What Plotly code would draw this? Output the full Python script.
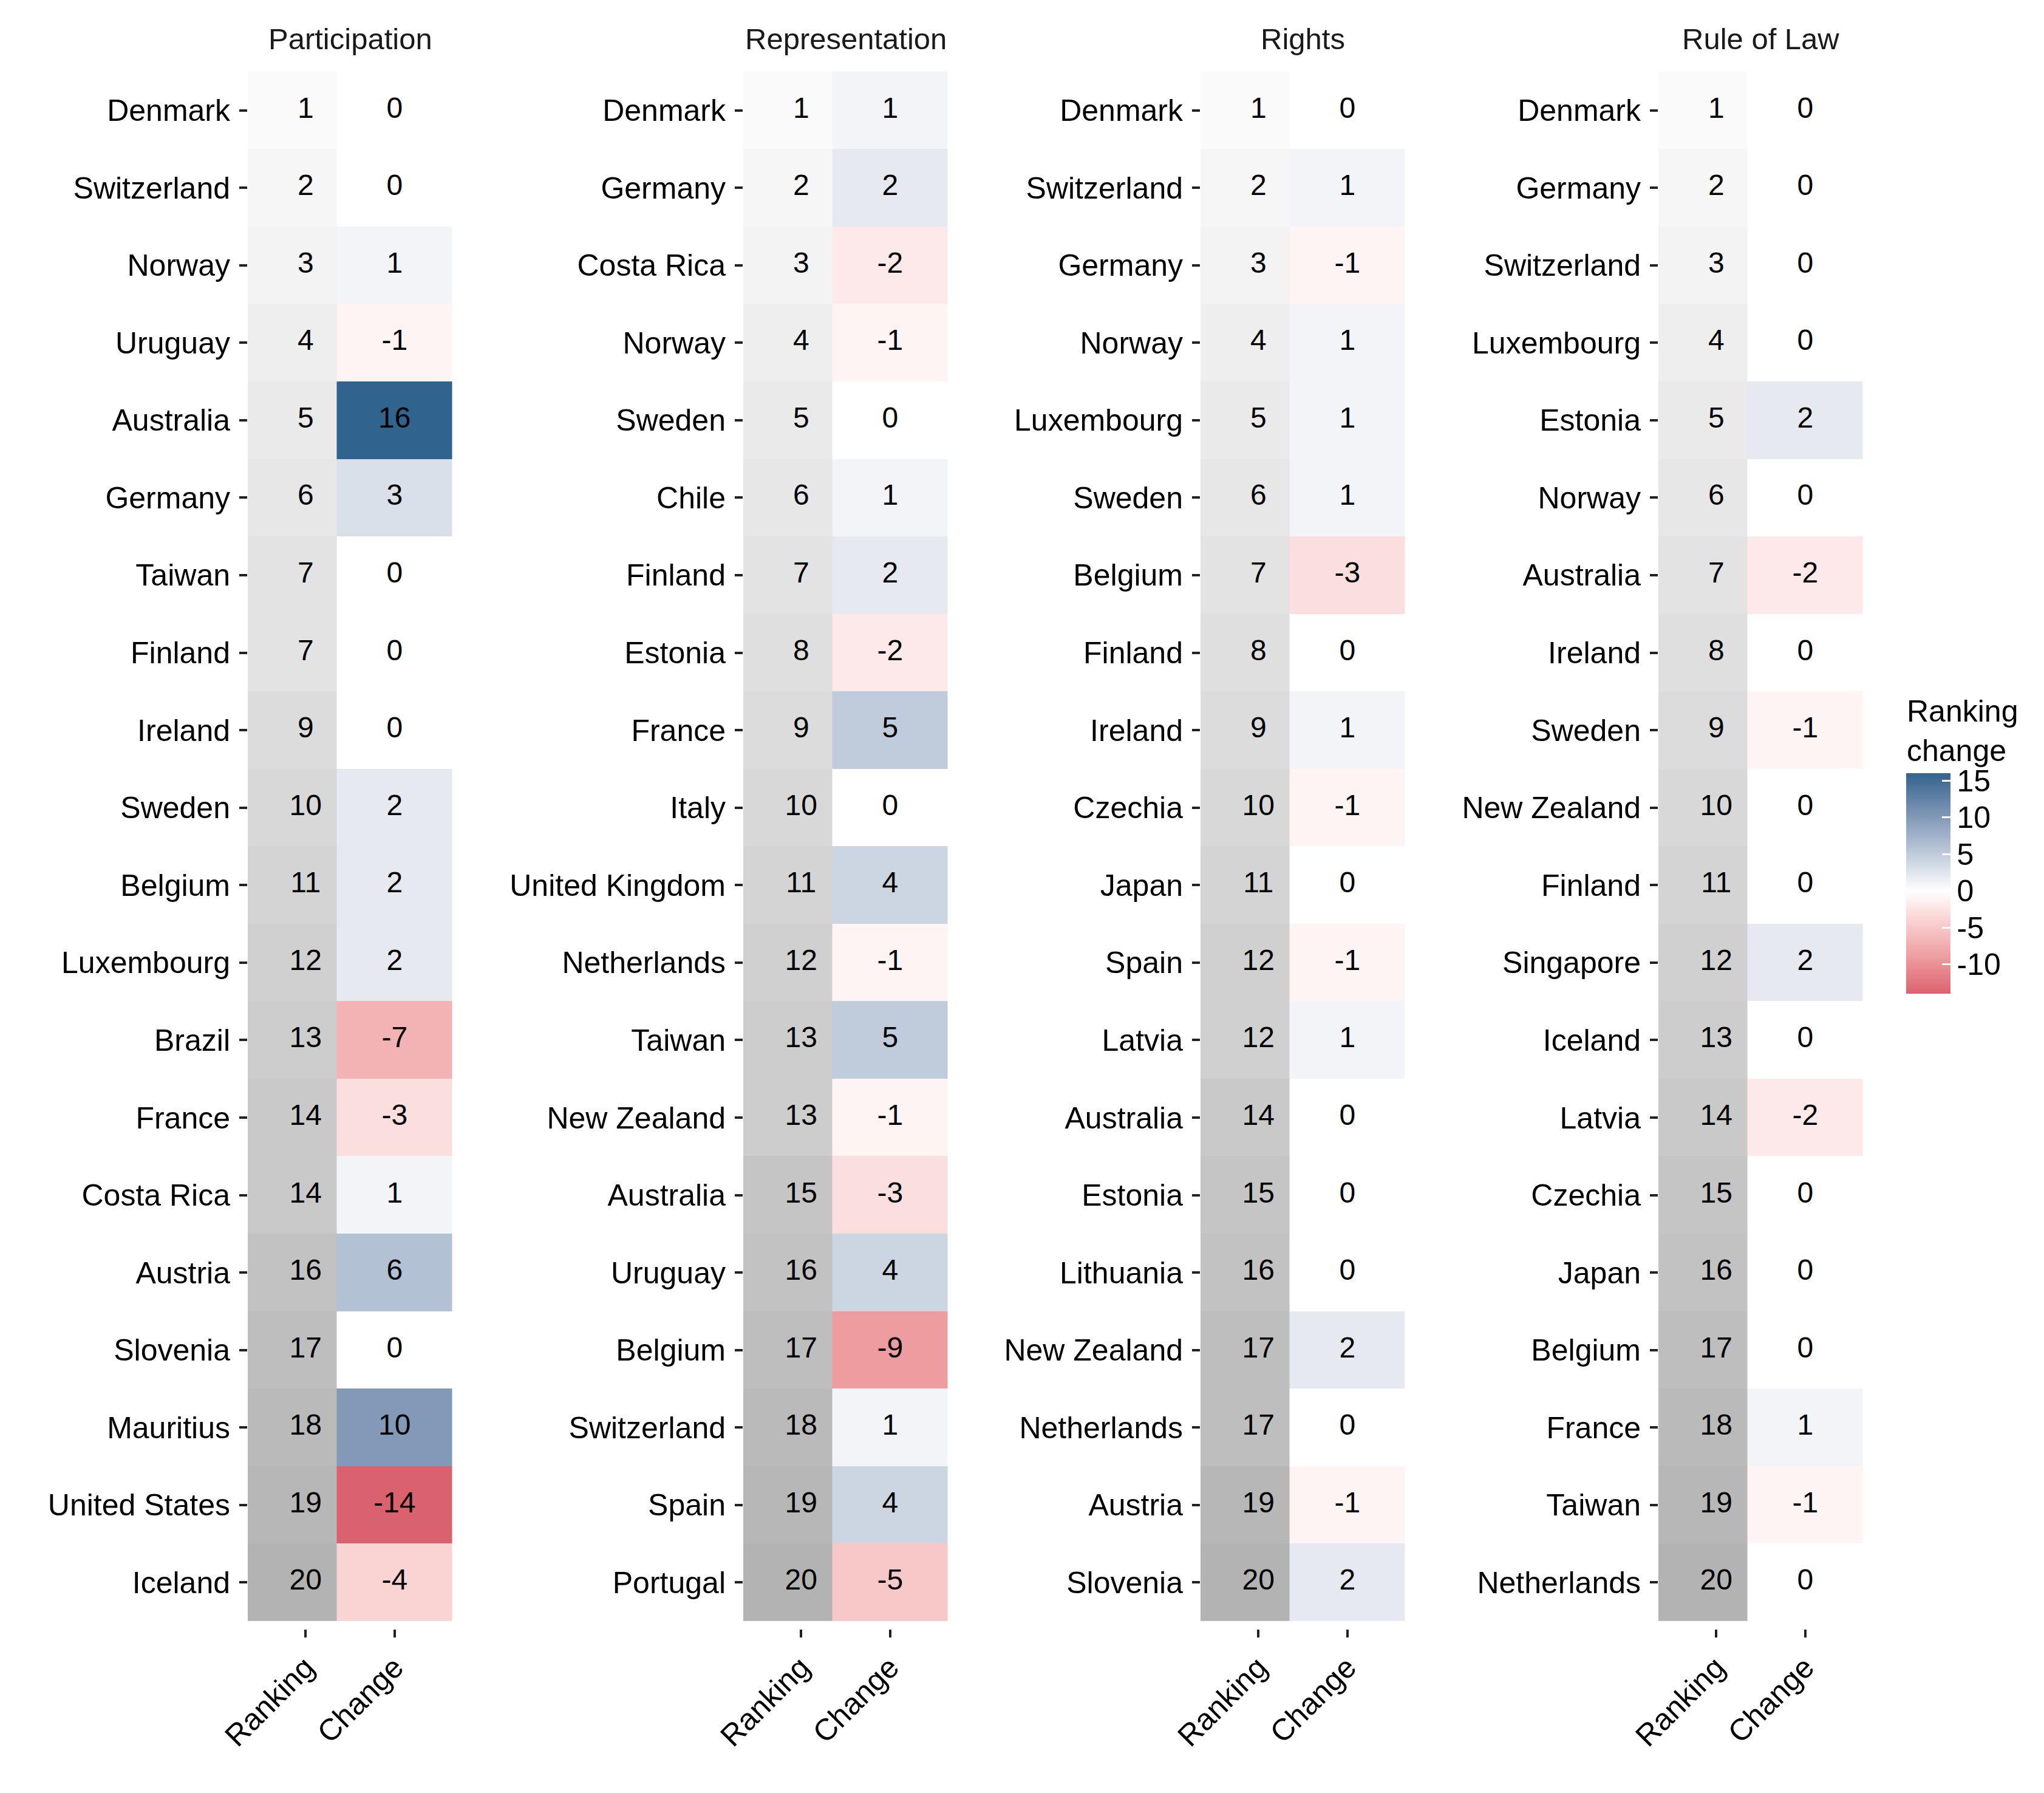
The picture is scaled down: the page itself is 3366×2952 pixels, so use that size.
import plotly.graph_objects as go

# ---------------- data ----------------
panels = ["Participation", "Representation", "Rights", "Rule of Law"]

participation_countries = ["Denmark", "Switzerland", "Norway", "Uruguay", "Australia", "Germany",
                           "Taiwan", "Finland", "Ireland", "Sweden", "Belgium", "Luxembourg",
                           "Brazil", "France", "Costa Rica", "Austria", "Slovenia", "Mauritius",
                           "United States", "Iceland"]
participation_ranking = [1, 2, 3, 4, 5, 6, 7, 7, 9, 10, 11, 12, 13, 14, 14, 16, 17, 18, 19, 20]
participation_change = [0, 0, 1, -1, 16, 3, 0, 0, 0, 2, 2, 2, -7, -3, 1, 6, 0, 10, -14, -4]

representation_countries = ["Denmark", "Germany", "Costa Rica", "Norway", "Sweden", "Chile",
                            "Finland", "Estonia", "France", "Italy", "United Kingdom", "Netherlands",
                            "Taiwan", "New Zealand", "Australia", "Uruguay", "Belgium",
                            "Switzerland", "Spain", "Portugal"]
representation_ranking = [1, 2, 3, 4, 5, 6, 7, 8, 9, 10, 11, 12, 13, 13, 15, 16, 17, 18, 19, 20]
representation_change = [1, 2, -2, -1, 0, 1, 2, -2, 5, 0, 4, -1, 5, -1, -3, 4, -9, 1, 4, -5]

rights_countries = ["Denmark", "Switzerland", "Germany", "Norway", "Luxembourg", "Sweden",
                    "Belgium", "Finland", "Ireland", "Czechia", "Japan", "Spain", "Latvia",
                    "Australia", "Estonia", "Lithuania", "New Zealand", "Netherlands",
                    "Austria", "Slovenia"]
rights_ranking = [1, 2, 3, 4, 5, 6, 7, 8, 9, 10, 11, 12, 12, 14, 15, 16, 17, 17, 19, 20]
rights_change = [0, 1, -1, 1, 1, 1, -3, 0, 1, -1, 0, -1, 1, 0, 0, 0, 2, 0, -1, 2]

rule_countries = ["Denmark", "Germany", "Switzerland", "Luxembourg", "Estonia", "Norway",
                  "Australia", "Ireland", "Sweden", "New Zealand", "Finland", "Singapore",
                  "Iceland", "Latvia", "Czechia", "Japan", "Belgium", "France", "Taiwan",
                  "Netherlands"]
rule_ranking = [1, 2, 3, 4, 5, 6, 7, 8, 9, 10, 11, 12, 13, 14, 15, 16, 17, 18, 19, 20]
rule_change = [0, 0, 0, 0, 2, 0, -2, 0, -1, 0, 0, 2, 0, -2, 0, 0, 0, 1, -1, 0]

column_labels = ["Ranking", "Change"]
legend_title = "Ranking<br>change"
legend_ticks = [15, 10, 5, 0, -5, -10]
legend_ticktext = ["15", "10", "5", "0", "-5", "-10"]

panel_data = [
    (participation_countries, participation_ranking, participation_change),
    (representation_countries, representation_ranking, representation_change),
    (rights_countries, rights_ranking, rights_change),
    (rule_countries, rule_ranking, rule_change),
]

# ---------------- colour helpers (Lab interpolation like ggplot) ----------------
def hex2rgb(h):
    h = h.lstrip("#")
    return [int(h[i:i + 2], 16) / 255 for i in (0, 2, 4)]

def _lin(c):
    return c / 12.92 if c <= 0.04045 else ((c + 0.055) / 1.055) ** 2.4

def _gam(c):
    c = max(0.0, min(1.0, c))
    return 12.92 * c if c <= 0.0031308 else 1.055 * c ** (1 / 2.4) - 0.055

WX, WY, WZ = 0.95047, 1.0, 1.08883

def rgb2lab(rgb):
    r, g, b = [_lin(c) for c in rgb]
    X = 0.4124564 * r + 0.3575761 * g + 0.1804375 * b
    Y = 0.2126729 * r + 0.7151522 * g + 0.0721750 * b
    Z = 0.0193339 * r + 0.1191920 * g + 0.9503041 * b
    def f(t):
        return t ** (1 / 3) if t > 216 / 24389 else (24389 / 27 * t + 16) / 116
    fx, fy, fz = f(X / WX), f(Y / WY), f(Z / WZ)
    return [116 * fy - 16, 500 * (fx - fy), 200 * (fy - fz)]

def lab2hex(lab):
    L, a, b = lab
    fy = (L + 16) / 116
    fx = fy + a / 500
    fz = fy - b / 200
    def finv(t):
        return t ** 3 if t ** 3 > 216 / 24389 else (116 * t - 16) / (24389 / 27)
    X, Y, Z = finv(fx) * WX, finv(fy) * WY, finv(fz) * WZ
    r = 3.2404542 * X - 1.5371385 * Y - 0.4985314 * Z
    g = -0.9692660 * X + 1.8760108 * Y + 0.0415560 * Z
    bb = 0.0556434 * X - 0.2040259 * Y + 1.0572252 * Z
    return "#%02x%02x%02x" % tuple(int(round(_gam(c) * 255)) for c in (r, g, bb))

def lab_mix(c1, c2, t):
    l1, l2 = rgb2lab(hex2rgb(c1)), rgb2lab(hex2rgb(c2))
    return lab2hex([l1[i] + (l2[i] - l1[i]) * t for i in range(3)])

LOW, MID, HIGH = "#D1495B", "#FFFFFF", "#30638E"
all_change = participation_change + representation_change + rights_change + rule_change
cmin, cmax = min(all_change), max(all_change)
ext = max(abs(cmin), abs(cmax))
change_scale = []
for v in range(cmin, cmax + 1):
    t = (v - cmin) / (cmax - cmin)
    s = v / ext
    col = lab_mix(MID, LOW, -s) if s < 0 else lab_mix(MID, HIGH, s)
    change_scale.append([t, col])

GLOW, GHIGH = "#FAFAFA", "#B3B3B3"
grey_scale = [[i / 10, lab_mix(GLOW, GHIGH, i / 10)] for i in range(11)]

# ---------------- geometry (pixels) ----------------
W, H = 3366, 2952
panel_x = [(408, 745), (1224, 1561), (1977, 2314), (2731, 3068)]
panel_top, panel_bot = 105, 2682
title_y = 64
bar_x, bar_top, bar_bot, bar_w = 3139, 1273, 1636, 73
FONT = "Liberation Sans, Arial, sans-serif"

fig = go.Figure()
layout = dict(
    width=W, height=H,
    margin=dict(l=0, r=0, t=0, b=0, autoexpand=False),
    paper_bgcolor="white", plot_bgcolor="white",
    font=dict(family=FONT, size=50, color="black"),
    showlegend=False,
    annotations=[],
    shapes=[],
)

for k, (countries, ranking, change) in enumerate(panel_data):
    idx = "" if k == 0 else str(k + 1)
    rows = list(range(len(countries)))
    fig.add_trace(go.Heatmap(
        x=[-0.65, 0.35], y=rows, z=[[v] for v in ranking],
        coloraxis="coloraxis2", xaxis="x" + idx, yaxis="y" + idx,
        hoverinfo="skip"))
    fig.add_trace(go.Heatmap(
        x=[0.35, 1.65], y=rows, z=[[v] for v in change],
        coloraxis="coloraxis", xaxis="x" + idx, yaxis="y" + idx,
        hoverinfo="skip"))
    fig.add_trace(go.Scatter(
        x=[0] * len(rows) + [1] * len(rows), y=rows + rows,
        text=[str(v) for v in ranking] + [str(v) for v in change],
        mode="text", textfont=dict(family=FONT, size=48, color="black"),
        textposition="middle center",
        xaxis="x" + idx, yaxis="y" + idx, hoverinfo="skip"))

    x0, x1 = panel_x[k]
    layout["xaxis" + idx] = dict(
        domain=[x0 / W, x1 / W], range=[-0.65, 1.65], anchor="y" + idx,
        tickmode="array", tickvals=[0, 1], ticktext=column_labels, tickangle=-45,
        ticks="outside", ticklen=13, tickwidth=4, tickcolor="#222222",
        showgrid=False, zeroline=False, showline=False, fixedrange=True,
        automargin=False,
        tickfont=dict(family=FONT, size=50, color="black"))
    layout["yaxis" + idx] = dict(
        domain=[1 - panel_bot / H, 1 - panel_top / H], range=[19.6, -0.6], anchor="x" + idx,
        tickmode="array", tickvals=rows, ticktext=countries,
        ticks="outside", ticklen=13, tickwidth=4, tickcolor="#222222",
        ticklabelstandoff=5, automargin=False,
        showgrid=False, zeroline=False, showline=False, fixedrange=True,
        tickfont=dict(family=FONT, size=50, color="black"))
    layout["annotations"].append(dict(
        text=panels[k], x=(x0 + x1) / 2 / W, y=1 - title_y / H,
        xref="paper", yref="paper", xanchor="center", yanchor="middle",
        showarrow=False, font=dict(family=FONT, size=49, color="#1a1a1a")))

layout["annotations"].append(dict(
    text=legend_title, x=bar_x / W, y=1 - (bar_top - 8) / H,
    xref="paper", yref="paper", xanchor="left", yanchor="bottom", align="left",
    showarrow=False, borderpad=0, font=dict(family=FONT, size=50, color="black")))

# white tick marks on the left edge of the colour bar (right edge drawn by the colorbar)
for v in legend_ticks:
    py = bar_bot - (v - cmin) / (cmax - cmin) * (bar_bot - bar_top)
    layout["shapes"].append(dict(
        type="line", xref="paper", yref="paper",
        x0=bar_x / W, x1=(bar_x + 14) / W, y0=1 - py / H, y1=1 - py / H,
        line=dict(color="white", width=3)))

layout["coloraxis"] = dict(
    colorscale=change_scale, cmin=cmin, cmax=cmax,
    colorbar=dict(
        x=bar_x / W, xanchor="left", y=1 - (bar_top + bar_bot) / 2 / H, yanchor="middle",
        thickness=bar_w, thicknessmode="pixels", len=bar_bot - bar_top, lenmode="pixels",
        outlinewidth=0, tickmode="array", tickvals=legend_ticks, ticktext=legend_ticktext,
        ticks="inside", ticklen=14,
        tickwidth=3, tickcolor="white", tickfont=dict(family=FONT, size=50, color="black"),
        xpad=0, ypad=0))
layout["coloraxis2"] = dict(colorscale=grey_scale, cmin=1, cmax=20, showscale=False)

fig.update_layout(**layout)
fig.write_html("out.html")
